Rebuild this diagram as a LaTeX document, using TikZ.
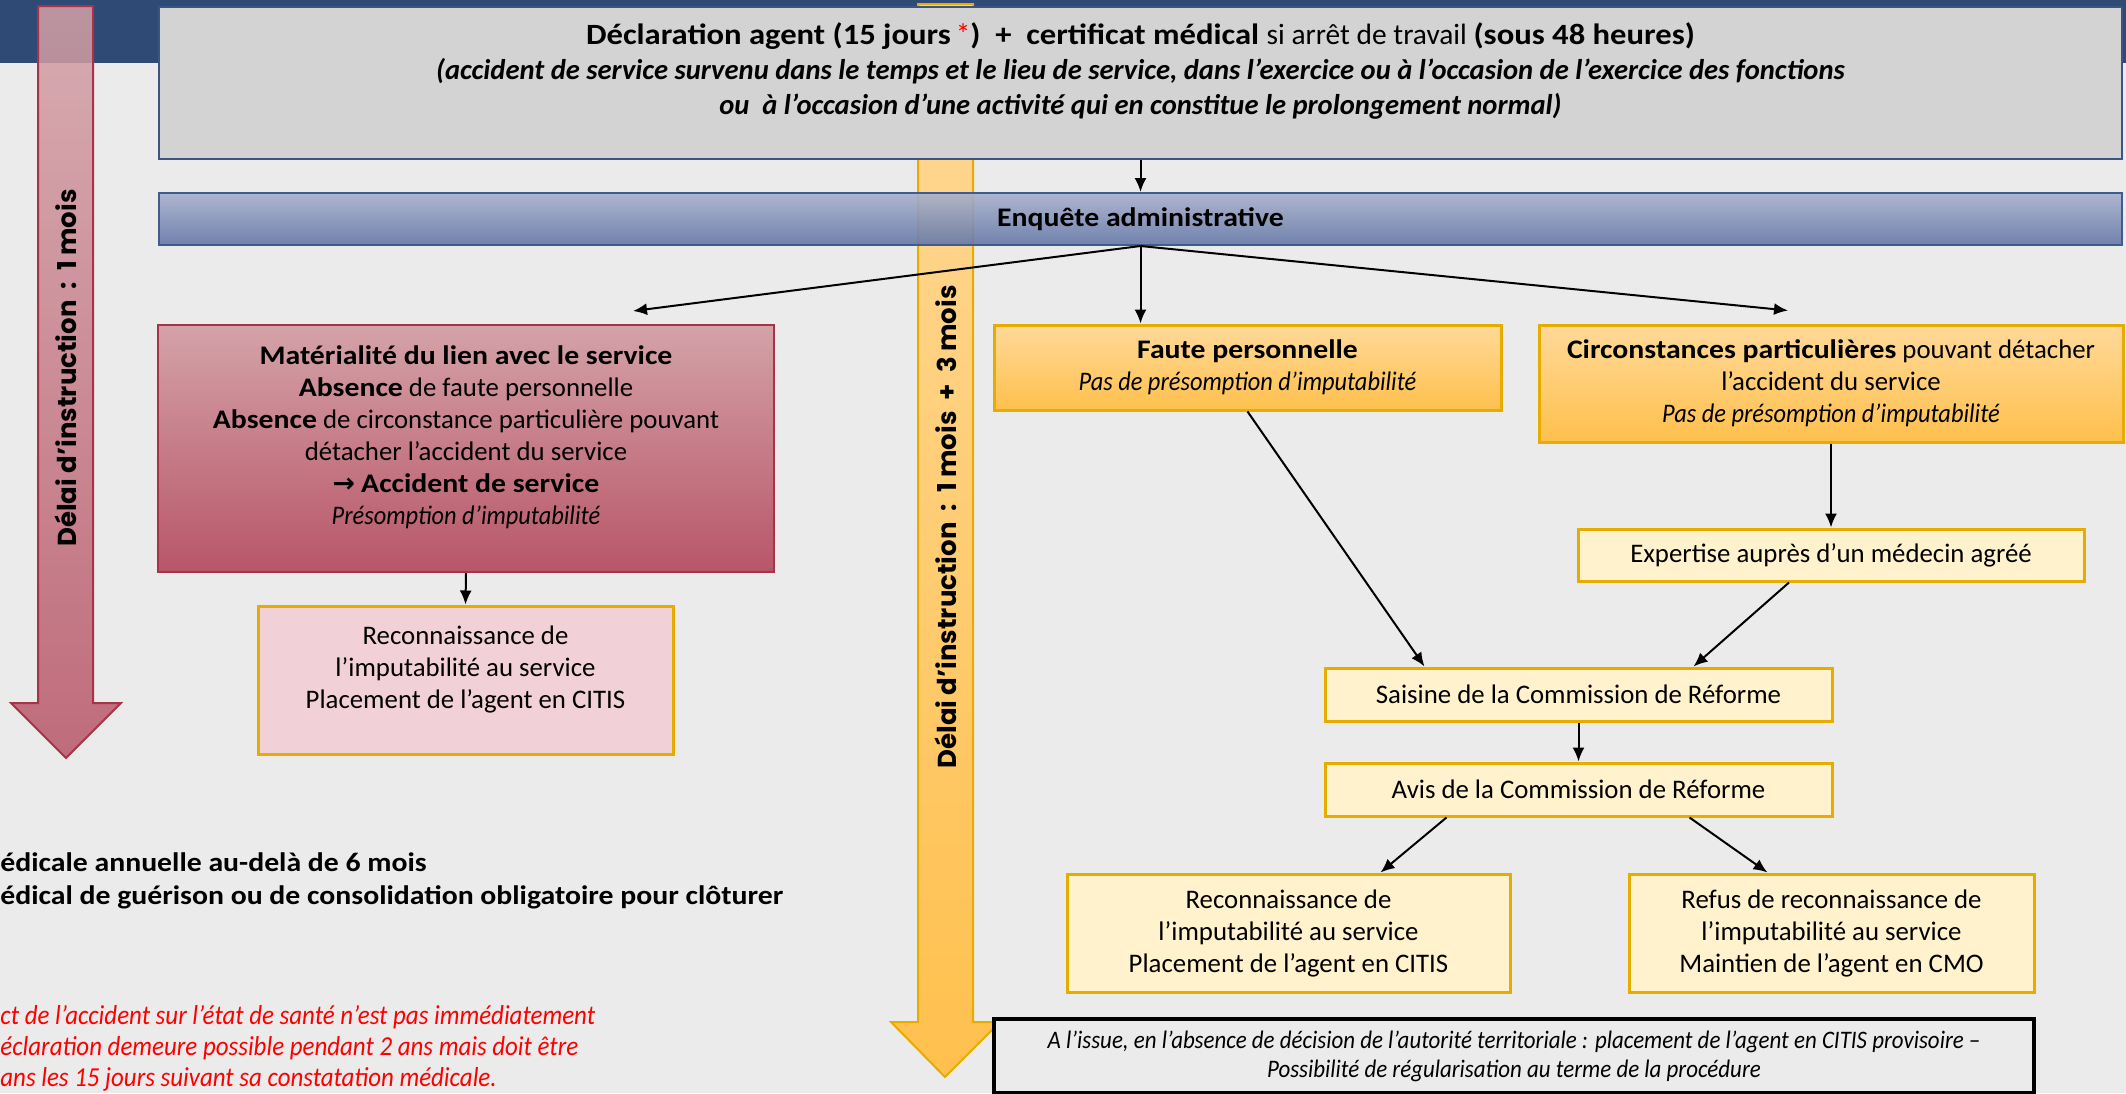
\documentclass[tikz,border=0pt]{standalone}
\usepackage{fontspec}
\setmainfont{Carlito}[BoldFeatures={FakeStretch=1.11}, ItalicFeatures={FakeStretch=0.91}]
\newfontfamily\gothicfont{Poppins}
\newfontfamily\symbfont{DejaVu Sans}
\usetikzlibrary{arrows.meta}

\definecolor{bgray}{RGB}{235,235,235}
\definecolor{bandblue}{RGB}{46,74,117}
\definecolor{declgray}{RGB}{211,211,211}
\definecolor{declline}{RGB}{59,85,128}
\definecolor{enqtop}{RGB}{168,177,205}
\definecolor{enqbot}{RGB}{100,119,166}
\definecolor{enqline}{RGB}{62,92,142}
\definecolor{mattop}{RGB}{212,162,168}
\definecolor{matbot}{RGB}{184,86,104}
\definecolor{matline}{RGB}{168,50,72}
\definecolor{ortop}{RGB}{255,217,153}
\definecolor{orbot}{RGB}{255,192,77}
\definecolor{orline}{RGB}{230,172,0}
\definecolor{cream}{RGB}{255,242,204}
\definecolor{rosepale}{RGB}{242,208,216}

% empty last line, pushes the text of a box upwards
\newcommand{\lift}[1]{\\[#1]\mbox{}}

\begin{document}
\begin{tikzpicture}[x=0.5pt, y=-0.5pt, >={Latex[length=7pt,width=6pt]},
  every node/.style={font=\fontsize{13.4}{16}\selectfont, align=center, inner sep=2pt},
  declbox/.style={draw=declline, line width=1pt, fill=declgray, minimum width=981.5pt, minimum height=76pt},
  enqbar/.style={draw=enqline, line width=1pt, top color=enqtop, bottom color=enqbot, fill opacity=0.9, text opacity=1, minimum width=981.5pt, minimum height=26pt},
  matbox/.style={draw=matline, line width=1pt, top color=mattop, bottom color=matbot},
  orbox/.style={draw=orline, line width=1.5pt, top color=ortop, bottom color=orbot},
  creambox/.style={draw=orline, line width=1.5pt, fill=cream},
  rosebox/.style={draw=orline, line width=1.5pt, fill=rosepale},
  flow/.style={->, line width=1pt},
  delai/.style={font=\gothicfont\bfseries\fontsize{13}{15}\selectfont, rotate=90}]
  % page and top band
  \useasboundingbox (0,0) rectangle (2126,1093);
  \fill[bgray] (0,0) rectangle (2126,1093);
  \fill[bandblue] (0,0) rectangle (2126,63);
  % big arrows giving the delays
  \path[draw=matline, line width=1pt, top color=mattop, bottom color=matbot, fill opacity=0.85]
    (38,6) -- (93,6) -- (93,703) -- (121,703) -- (66,758) -- (11,703) -- (38,703) -- cycle;
  \node[delai] (delai1) at (66,368) {Délai d’instruction~~:~~1 mois};
  \path[draw=orline, line width=1pt, top color=ortop, bottom color=orbot]
    (918,4) -- (973,4) -- (973,1022) -- (1000,1022) -- (945,1077) -- (891,1022) -- (918,1022) -- cycle;
  \node[delai] (delai2) at (946,527) {Délai d’instruction~~:~~1 mois~~+~~3 mois};

  % declaration and inquiry
  \node[declbox, font=\fontsize{14.3}{17.5}\selectfont] (decl) at (1140.5,83)
    {{\fontsize{14.7}{17.5}\selectfont\bfseries Déclaration agent (15 jours\,\textcolor{red}{\mdseries*})~~+~~certificat médical \mdseries si arrêt de travail \bfseries(sous 48 heures)}\\
     \bfseries\itshape (accident de service survenu dans le temps et le lieu de service, dans l’exercice ou à l’occasion de l’exercice des fonctions\\
     \bfseries\itshape ou~~à l’occasion d’une activité qui en constitue le prolongement normal)\lift{-3pt}};
  \node[enqbar] (enq) at (1140.5,219) {\textbf{Enquête administrative}};

  % left branch
  \node[matbox, minimum width=308pt, minimum height=123.5pt] (mat) at (466,448.5)
    {\textbf{Matérialité du lien avec le service}\\
     \textbf{Absence} de faute personnelle\\
     \textbf{Absence} de circonstance particulière pouvant\\
     détacher l’accident du service\\
     {\symbfont\bfseries →} \textbf{Accident de service}\\
     \textit{Présomption d’imputabilité}\lift{-3pt}};
  \node[rosebox, minimum width=207.5pt, minimum height=74pt] (reco1) at (465.5,680)
    {Reconnaissance de\\ l’imputabilité au service\\ Placement de l’agent en CITIS\lift{-3pt}};

  % right branches
  \node[orbox, minimum width=253.5pt, minimum height=42.5pt] (faute) at (1247.5,367.5)
    {\textbf{Faute personnelle}\\ \textit{Pas de présomption d’imputabilité}};
  \node[orbox, minimum width=292pt, minimum height=58.5pt] (circ) at (1831,383.5)
    {\textbf{Circonstances particulières} pouvant détacher\\ l’accident du service\\ \textit{Pas de présomption d’imputabilité}};
  \node[creambox, minimum width=253pt, minimum height=26pt] (expert) at (1831,555)
    {Expertise auprès d’un médecin agréé};
  \node[creambox, minimum width=253.5pt, minimum height=26.5pt] (saisine) at (1578.5,694.5)
    {Saisine de la Commission de Réforme};
  \node[creambox, minimum width=253.5pt, minimum height=26.5pt] (avis) at (1578.5,789.5)
    {Avis de la Commission de Réforme};
  \node[creambox, minimum width=221.5pt, minimum height=59pt] (reco2) at (1288.5,933)
    {Reconnaissance de\\ l’imputabilité au service\\ Placement de l’agent en CITIS};
  \node[creambox, minimum width=202.5pt, minimum height=59pt] (refus) at (1831.5,933)
    {Refus de reconnaissance de\\ l’imputabilité au service\\ Maintien de l’agent en CMO};
  \node[draw=black, line width=2pt, fill=bgray, minimum width=520pt, minimum height=37pt,
    font=\itshape\fontsize{12.6}{14.5}\selectfont] (issue) at (1514,1056)
    {A l’issue, en l’absence de décision de l’autorité territoriale : placement de l’agent en CITIS provisoire –\\
     Possibilité de régularisation au terme de la procédure};

  % notes cut by the left edge
  \node[anchor=west, align=left, font=\bfseries\fontsize{13.4}{16.5}\selectfont] (suivi) at (-4,880.5)
    {édicale annuelle au-delà de 6 mois\\ édical de guérison ou de consolidation obligatoire pour clôturer};
  \node[anchor=west, align=left, text=red, font=\itshape\fontsize{13.7}{15.5}\selectfont] (rappel) at (-4,1048.5)
    {ct de l’accident sur l’état de santé n’est pas immédiatement\\ éclaration demeure possible pendant 2 ans mais doit être\\ ans les 15 jours suivant sa constatation médicale.};

  % connectors
  \draw[flow] (decl.south) -- (enq.north);
  \draw[flow] (enq.south) -- ([xshift=83.5pt,yshift=6.5pt]mat.north);
  \draw[flow] (enq.south) -- ([xshift=-53.5pt]faute.north);
  \draw[flow] (enq.south) -- ([xshift=-21.5pt,yshift=6.5pt]circ.north);
  \draw[flow] (mat.south) -- (reco1.north);
  \draw[flow] (circ.south) -- (expert.north);
  \draw[flow] (faute.south) -- ([xshift=-77pt]saisine.north);
  \draw[flow] ([xshift=-21pt]expert.south) -- ([xshift=57.5pt]saisine.north);
  \draw[flow] (saisine.south) -- (avis.north);
  \draw[flow] ([xshift=-66pt]avis.south) -- ([xshift=46pt]reco2.north);
  \draw[flow] ([xshift=55.5pt]avis.south) -- ([xshift=-32pt]refus.north);
\end{tikzpicture}
\end{document}
